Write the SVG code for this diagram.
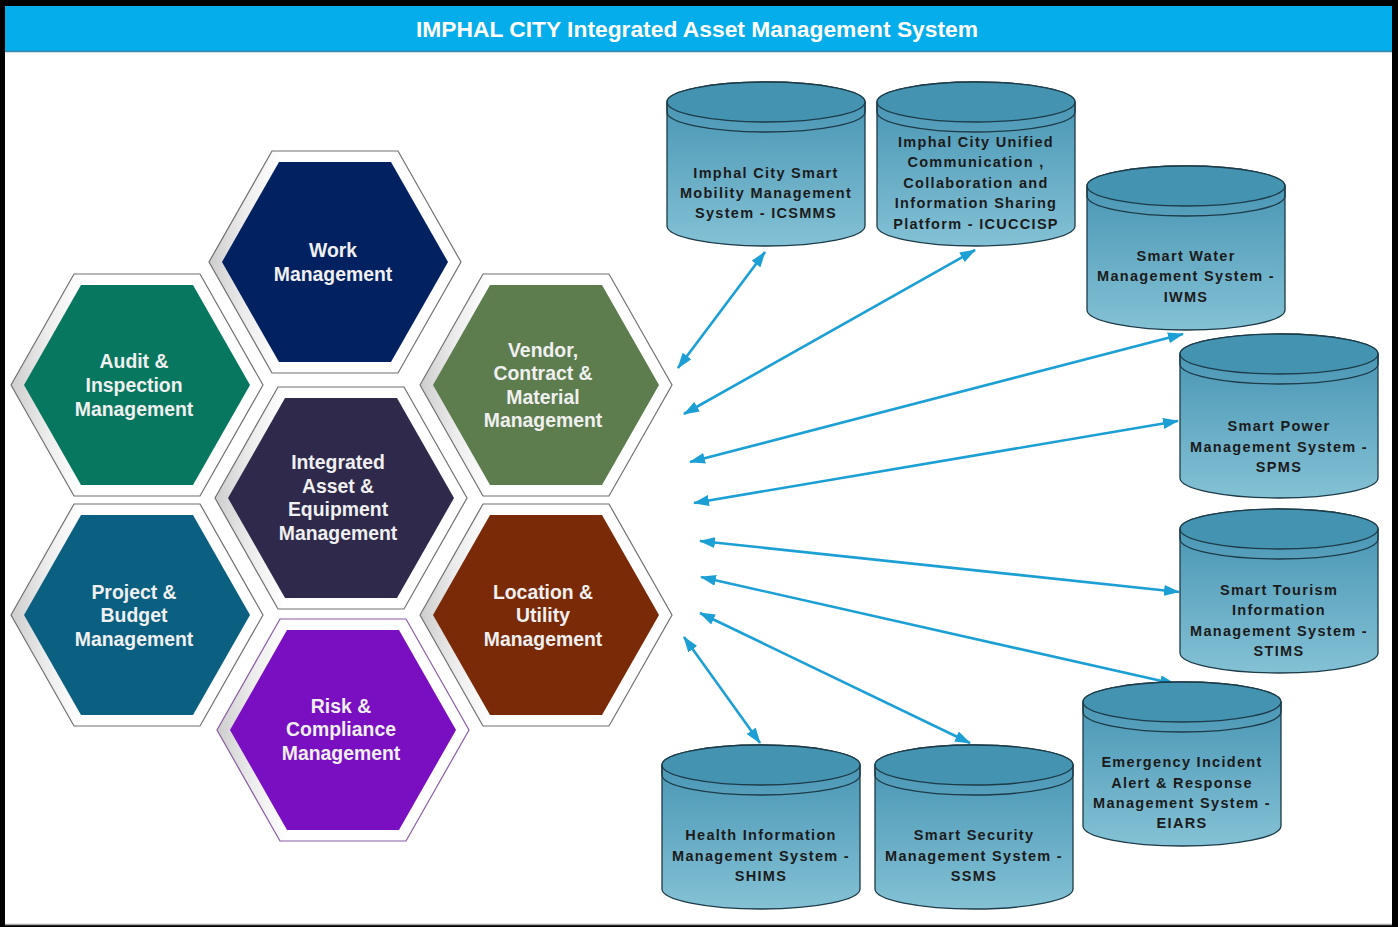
<svg xmlns="http://www.w3.org/2000/svg" width="1398" height="927" viewBox="0 0 1398 927">
<style>
.title{font-family:"Liberation Sans",Arial,sans-serif;font-weight:bold;font-size:22.8px;fill:#ffffff}
.hx{font-family:"Liberation Sans",Arial,sans-serif;font-weight:bold;font-size:19.4px;fill:#f0f0f0;text-anchor:middle;dominant-baseline:central}
.cy{font-family:"Liberation Sans",Arial,sans-serif;font-weight:bold;font-size:14.5px;fill:#1b1b1b;text-anchor:middle;dominant-baseline:central;letter-spacing:1.3px}
.conn line{stroke:#1c9fd5;stroke-width:2.6;fill:none;marker-start:url(#ah);marker-end:url(#ah)}
.cylBody{fill:url(#cylGrad);stroke:#1d3b48;stroke-width:1.3}
.cylCap{fill:#4393b1;stroke:#1d3b48;stroke-width:1.3}
.cylBand{fill:none;stroke:#1d3b48;stroke-width:1.3}
.hexOut{fill:url(#bevel);stroke:#707070;stroke-width:1.2}
</style>
<defs>
<marker id="ah" markerUnits="userSpaceOnUse" markerWidth="16" markerHeight="11" refX="15" refY="5.5" orient="auto-start-reverse">
<path d="M0,0 L16,5.5 L0,11 Z" fill="#1c9fd5"/>
</marker>
<linearGradient id="cylGrad" x1="0" y1="0" x2="0" y2="1">
<stop offset="0" stop-color="#4291b0"/>
<stop offset="1" stop-color="#84c1d5"/>
</linearGradient>
<linearGradient id="bevel" x1="0" y1="0" x2="1" y2="0">
<stop offset="0" stop-color="#cdcdcd"/>
<stop offset="0.14" stop-color="#ececec"/>
<stop offset="0.28" stop-color="#ffffff"/>
<stop offset="1" stop-color="#ffffff"/>
</linearGradient>
<polygon id="hexO" points="-126,0 -63,-111 63,-111 126,0 63,111 -63,111"/>
<polygon id="hexI" points="-113,0 -56,-100 56,-100 113,0 56,100 -56,100"/>
<g id="cyl">
<path class="cylBody" d="M0,20 A99,20 0 0 1 198,20 L198,144 A99,20 0 0 1 0,144 Z"/>
<ellipse class="cylCap" cx="99" cy="20" rx="99" ry="20"/>
<path class="cylBand" d="M0,20 L0,30 A99,20 0 0 0 198,30 L198,20"/>
</g>
</defs>

<rect x="0" y="0" width="1398" height="927" fill="#000000"/>
<rect x="5" y="6" width="1387" height="919" fill="#ffffff"/>
<line x1="5" y1="924.5" x2="1392" y2="924.5" stroke="#a8a8a8" stroke-width="1.5"/>

<g id="title">
<rect x="5" y="6" width="1387" height="46" fill="#05adea"/>
<line x1="5" y1="51.5" x2="1392" y2="51.5" stroke="#3e8aa8" stroke-width="1.5"/>
<text class="title" x="697" y="29" text-anchor="middle" dominant-baseline="central">IMPHAL CITY Integrated Asset Management System</text>
</g>

<g id="hex-work" transform="translate(335,262)">
<use href="#hexO" class="hexOut"/>
<use href="#hexI" fill="#012160"/>
<text class="hx" x="-2" y="-12">Work</text>
<text class="hx" x="-2" y="12">Management</text>
</g>
<g id="hex-audit" transform="translate(137,385)">
<use href="#hexO" class="hexOut"/>
<use href="#hexI" fill="#08775f"/>
<text class="hx" x="-3" y="-24">Audit &amp;</text>
<text class="hx" x="-3" y="0">Inspection</text>
<text class="hx" x="-3" y="24">Management</text>
</g>
<g id="hex-vendor" transform="translate(546,385)">
<use href="#hexO" class="hexOut"/>
<use href="#hexI" fill="#5e7d4e"/>
<text class="hx" x="-3" y="-35">Vendor,</text>
<text class="hx" x="-3" y="-12">Contract &amp;</text>
<text class="hx" x="-3" y="12">Material</text>
<text class="hx" x="-3" y="35">Management</text>
</g>
<g id="hex-integrated" transform="translate(341,498)">
<use href="#hexO" class="hexOut"/>
<use href="#hexI" fill="#2f2a4b"/>
<text class="hx" x="-3" y="-36">Integrated</text>
<text class="hx" x="-3" y="-12">Asset &amp;</text>
<text class="hx" x="-3" y="11">Equipment</text>
<text class="hx" x="-3" y="35">Management</text>
</g>
<g id="hex-project" transform="translate(137,615)">
<use href="#hexO" class="hexOut"/>
<use href="#hexI" fill="#0b6082"/>
<text class="hx" x="-3" y="-23">Project &amp;</text>
<text class="hx" x="-3" y="0">Budget</text>
<text class="hx" x="-3" y="24">Management</text>
</g>
<g id="hex-location" transform="translate(546,615)">
<use href="#hexO" class="hexOut"/>
<use href="#hexI" fill="#7a2a06"/>
<text class="hx" x="-3" y="-23">Location &amp;</text>
<text class="hx" x="-3" y="0">Utility</text>
<text class="hx" x="-3" y="24">Management</text>
</g>
<g id="hex-risk" transform="translate(343,730)">
<use href="#hexO" class="hexOut" style="stroke:#8a5aa6"/>
<use href="#hexI" fill="#7a0fc2"/>
<text class="hx" x="-2" y="-24">Risk &amp;</text>
<text class="hx" x="-2" y="-1">Compliance</text>
<text class="hx" x="-2" y="23">Management</text>
</g>

<g id="connectors" class="conn">
<line x1="678" y1="368" x2="765" y2="252"/>
<line x1="684" y1="414" x2="975" y2="250"/>
<line x1="690" y1="462" x2="1183" y2="334"/>
<line x1="694" y1="503" x2="1178" y2="421"/>
<line x1="700" y1="541" x2="1179" y2="592"/>
<line x1="701" y1="577" x2="1175" y2="684"/>
<line x1="700" y1="613" x2="970" y2="743"/>
<line x1="684" y1="637" x2="760" y2="743"/>
</g>

<g id="db-icsmms" transform="translate(667,82)">
<use href="#cyl"/>
<text class="cy" x="99" y="91">Imphal City Smart</text>
<text class="cy" x="99" y="111">Mobility Management</text>
<text class="cy" x="99" y="131">System -  ICSMMS</text>
</g>
<g id="db-icuccisp" transform="translate(877,82)">
<use href="#cyl"/>
<text class="cy" x="99" y="60">Imphal City Unified</text>
<text class="cy" x="99" y="80">Communication ,</text>
<text class="cy" x="99" y="101">Collaboration and</text>
<text class="cy" x="99" y="121">Information Sharing</text>
<text class="cy" x="99" y="142">Platform - ICUCCISP</text>
</g>
<g id="db-iwms" transform="translate(1087,166)">
<use href="#cyl"/>
<text class="cy" x="99" y="90">Smart Water</text>
<text class="cy" x="99" y="110">Management System -</text>
<text class="cy" x="99" y="131">IWMS</text>
</g>
<g id="db-spms" transform="translate(1180,334)">
<use href="#cyl"/>
<text class="cy" x="99" y="92">Smart Power</text>
<text class="cy" x="99" y="113">Management System -</text>
<text class="cy" x="99" y="133">SPMS</text>
</g>
<g id="db-stims" transform="translate(1180,509)">
<use href="#cyl"/>
<text class="cy" x="99" y="81">Smart Tourism</text>
<text class="cy" x="99" y="101">Information</text>
<text class="cy" x="99" y="122">Management System -</text>
<text class="cy" x="99" y="142">STIMS</text>
</g>
<g id="db-eiars" transform="translate(1083,682)">
<use href="#cyl"/>
<text class="cy" x="99" y="80">Emergency Incident</text>
<text class="cy" x="99" y="101">Alert &amp; Response</text>
<text class="cy" x="99" y="121">Management System -</text>
<text class="cy" x="99" y="141">EIARS</text>
</g>
<g id="db-shims" transform="translate(662,745)">
<use href="#cyl"/>
<text class="cy" x="99" y="90">Health Information</text>
<text class="cy" x="99" y="111">Management System -</text>
<text class="cy" x="99" y="131">SHIMS</text>
</g>
<g id="db-ssms" transform="translate(875,745)">
<use href="#cyl"/>
<text class="cy" x="99" y="90">Smart Security</text>
<text class="cy" x="99" y="111">Management System -</text>
<text class="cy" x="99" y="131">SSMS</text>
</g>
</svg>
